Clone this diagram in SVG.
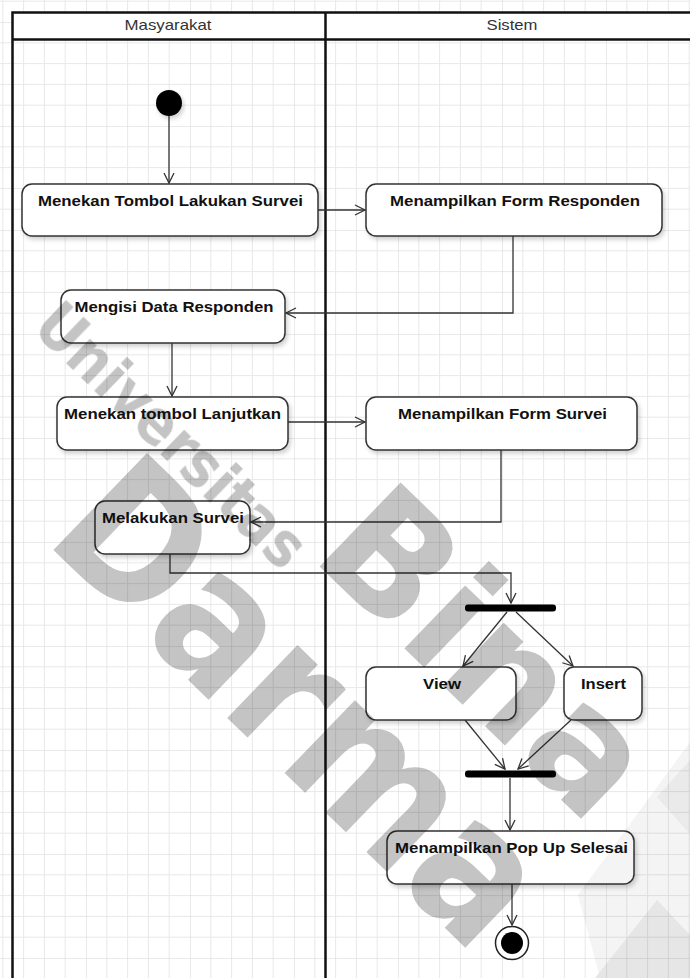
<svg xmlns="http://www.w3.org/2000/svg" width="690" height="978" viewBox="0 0 690 978">
  <defs>
    <pattern id="grid" x="-18" y="-82" width="104" height="104" patternUnits="userSpaceOnUse">
      <path d="M20.8 0V104M41.6 0V104M62.4 0V104M83.2 0V104M0 20.8H104M0 41.6H104M0 62.4H104M0 83.2H104" stroke="#e8e8e8" stroke-width="1" fill="none"/>
      <path d="M0 0V104M0 0H104" stroke="#d6d6d6" stroke-width="1" fill="none"/>
    </pattern>
    <marker id="open" markerUnits="userSpaceOnUse" markerWidth="14" markerHeight="14" refX="11" refY="6" orient="auto">
      <path d="M1 1 L11 6 L1 11" fill="none" stroke="#333" stroke-width="1.3"/>
    </marker>
    <filter id="shadow" x="-10%" y="-20%" width="125%" height="150%">
      <feDropShadow dx="2" dy="3" stdDeviation="2" flood-color="#000" flood-opacity="0.18"/>
    </filter>
  </defs>
  <style>
    .act rect { fill: #fff; stroke: #333; stroke-width: 1.5; filter: url(#shadow); }
    .act text { font-family: "Liberation Sans", Arial, sans-serif; font-weight: bold; font-size: 15px; fill: #111; text-anchor: middle; }
    .lane { fill: none; stroke: #111; stroke-width: 2.5; }
    .lane-title { font-family: "Liberation Sans", Arial, sans-serif; font-size: 15px; fill: #333; text-anchor: middle; }
    .conn path, .conn line { fill: none; stroke: #333; stroke-width: 1.3; marker-end: url(#open); }
    .bar { fill: #000; }
    #watermark { mix-blend-mode: multiply; }
    .wm { font-family: "DejaVu Sans", "Liberation Sans", sans-serif; font-weight: bold; fill: #c4c4c4; text-anchor: middle; dominant-baseline: central; }
  </style>

  <!-- background grid -->
  <rect width="690" height="978" fill="#fff"/>
  <rect width="690" height="978" fill="url(#grid)"/>

  <!-- swimlanes -->
  <g id="lanes">
    <rect x="12" y="12" width="690" height="28" fill="#fff"/>
    <path class="lane" d="M12.5 978V12.5H692M12.5 39.5H692M325.5 12.5V978"/>
    <text class="lane-title" x="168" y="30" textLength="87" lengthAdjust="spacingAndGlyphs">Masyarakat</text>
    <text class="lane-title" x="512" y="30" textLength="51" lengthAdjust="spacingAndGlyphs">Sistem</text>
  </g>

  <!-- connectors -->
  <g id="connectors" class="conn">
    <line x1="169" y1="116" x2="169" y2="183"/>
    <line x1="318" y1="210" x2="365" y2="210"/>
    <path d="M513 236V313H286"/>
    <line x1="172" y1="343" x2="172" y2="396"/>
    <line x1="288" y1="422" x2="365" y2="422"/>
    <path d="M501 450V522H251"/>
    <path d="M170 554V573H511V603"/>
    <line x1="507" y1="612" x2="463" y2="666"/>
    <line x1="516" y1="612" x2="573" y2="666"/>
    <line x1="465" y1="720" x2="505" y2="769"/>
    <line x1="571" y1="720" x2="518" y2="769"/>
    <line x1="510" y1="778" x2="510" y2="830"/>
    <line x1="512" y1="884" x2="512" y2="925"/>
  </g>

  <!-- start node -->
  <g id="start">
    <circle cx="169" cy="103" r="13" fill="#000" filter="url(#shadow)"/>
  </g>

  <g id="tekan-survei" class="act">
    <rect x="22" y="184" width="296" height="52" rx="10"/>
    <text x="170.5" y="205.5" textLength="265" lengthAdjust="spacingAndGlyphs">Menekan Tombol Lakukan Survei</text>
  </g>
  <g id="form-responden" class="act">
    <rect x="366" y="184" width="296" height="52" rx="10"/>
    <text x="515" y="205.5" textLength="250" lengthAdjust="spacingAndGlyphs">Menampilkan Form Responden</text>
  </g>
  <g id="isi-data" class="act">
    <rect x="61" y="290" width="224" height="53" rx="10"/>
    <text x="174" y="312" textLength="199" lengthAdjust="spacingAndGlyphs">Mengisi Data Responden</text>
  </g>
  <g id="tekan-lanjutkan" class="act">
    <rect x="57" y="397" width="231" height="53" rx="10"/>
    <text x="172.5" y="418.5" textLength="217" lengthAdjust="spacingAndGlyphs">Menekan tombol Lanjutkan</text>
  </g>
  <g id="form-survei" class="act">
    <rect x="366" y="397" width="271" height="53" rx="10"/>
    <text x="502.5" y="418.5" textLength="209" lengthAdjust="spacingAndGlyphs">Menampilkan Form Survei</text>
  </g>
  <g id="lakukan-survei" class="act">
    <rect x="95" y="501" width="155" height="53" rx="10"/>
    <text x="173" y="522.5" textLength="142" lengthAdjust="spacingAndGlyphs">Melakukan Survei</text>
  </g>

  <g id="fork">
    <rect class="bar" x="465" y="604.5" width="91" height="7" rx="3"/>
  </g>
  <g id="view" class="act">
    <rect x="366" y="667" width="150" height="53" rx="10"/>
    <text x="442" y="689" textLength="38" lengthAdjust="spacingAndGlyphs">View</text>
  </g>
  <g id="insert" class="act">
    <rect x="564" y="667" width="78" height="53" rx="10"/>
    <text x="603.5" y="689" textLength="45" lengthAdjust="spacingAndGlyphs">Insert</text>
  </g>
  <g id="join">
    <rect class="bar" x="465" y="770.5" width="91" height="7" rx="3"/>
  </g>
  <g id="popup-selesai" class="act">
    <rect x="387" y="831" width="247" height="53" rx="10"/>
    <text x="511.5" y="852.5" textLength="233" lengthAdjust="spacingAndGlyphs">Menampilkan Pop Up Selesai</text>
  </g>

  <!-- final node -->
  <g id="end">
    <circle cx="512" cy="943" r="16.5" fill="#fff" stroke="#222" stroke-width="1.5"/>
    <circle cx="512" cy="943" r="11" fill="#000"/>
  </g>

  <!-- watermark, multiplied over the drawing -->
  <g id="watermark">
    <polygon points="690,742 578,895 600,978 690,978" fill="#f4f4f4"/>
    <polygon points="657,797 690,760 690,834" fill="#eaeaea"/>
    <polygon points="657,900 595,978 690,978 690,935" fill="#e6e6e6"/>
    <text class="wm" font-size="62" transform="translate(172 435) rotate(44)" textLength="350" lengthAdjust="spacingAndGlyphs">Universitas</text>
    <text class="wm" font-size="160" transform="translate(488 652) rotate(44)" textLength="390" lengthAdjust="spacingAndGlyphs">Bina</text>
    <text class="wm" font-size="185" transform="translate(303 702) rotate(44)" textLength="600" lengthAdjust="spacingAndGlyphs">Darma</text>
  </g>
</svg>
